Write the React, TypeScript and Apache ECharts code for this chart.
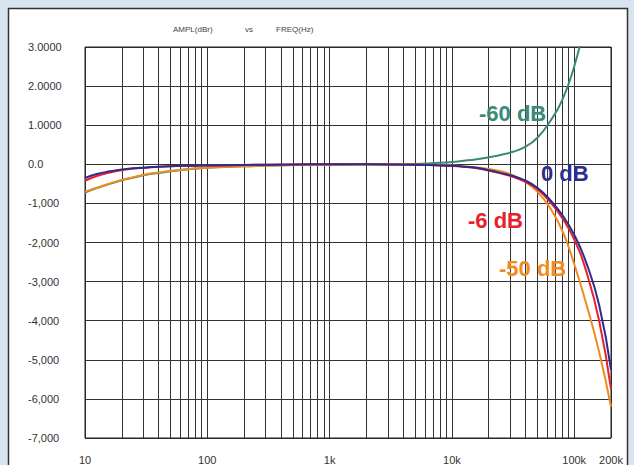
import React, { useEffect, useRef } from "react";
import * as echarts from "echarts";

// Frequencies (Hz) of the sampled points
const FREQS = [10, 12.5, 16, 20, 25, 31.5, 40, 50, 63, 80, 100, 200, 500, 1000, 2000, 5000, 10000, 12500, 16000, 20000, 25000, 31500, 40000, 50000, 63000, 80000, 100000, 125000, 160000, 200000];

// Amplitude (dBr) per input level
const AMP_0DB = [-0.35, -0.25, -0.18, -0.13, -0.1, -0.08, -0.06, -0.05, -0.04, -0.035, -0.03, -0.015, -0.005, 0, 0, -0.01, -0.04, -0.06, -0.09, -0.15, -0.22, -0.3, -0.42, -0.6, -0.9, -1.3, -1.8, -2.5, -3.6, -5.26];
const AMP_M6DB = [-0.42, -0.3, -0.21, -0.15, -0.11, -0.09, -0.065, -0.05, -0.04, -0.035, -0.03, -0.015, -0.005, 0, 0, -0.01, -0.04, -0.06, -0.1, -0.16, -0.23, -0.32, -0.45, -0.64, -0.95, -1.38, -1.92, -2.72, -4.0, -5.75];
const AMP_M50DB = [-0.7, -0.6, -0.49, -0.4, -0.33, -0.26, -0.21, -0.17, -0.14, -0.11, -0.09, -0.05, -0.02, -0.01, 0, -0.01, -0.03, -0.05, -0.08, -0.12, -0.18, -0.28, -0.45, -0.7, -1.1, -1.7, -2.55, -3.55, -4.8, -6.2];
const AMP_M60DB = [-0.72, -0.61, -0.5, -0.41, -0.34, -0.27, -0.22, -0.18, -0.14, -0.11, -0.09, -0.05, -0.02, -0.01, 0, 0.01, 0.06, 0.09, 0.13, 0.18, 0.24, 0.32, 0.45, 0.68, 1.08, 1.65, 2.5, 3.7, 5.4, 7.6];

const SERIES_NAMES = ["-60 dB", "-50 dB", "-6 dB", "0 dB"];

// Axis ticks
const X_TICK_FREQS = [10, 100, 1000, 10000, 100000, 200000];
const X_TICK_LABELS = ["10", "100", "1k", "10k", "100k", "200k"];
const X_DECADES = [10, 100, 1000, 10000, 100000];
const X_MULTIPLIERS = [1, 2, 3, 4, 5, 6, 7, 8, 9];
const Y_TICKS = [-7, -6, -5, -4, -3, -2, -1, 0, 1, 2, 3];
const Y_TICK_LABELS = ["-7,000", "-6,000", "-5,000", "-4,000", "-3,000", "-2,000", "-1,000", "0.0", "1.0000", "2.0000", "3.0000"];

const TITLE_PARTS = ["AMPL(dBr)", "vs", "FREQ(Hz)"];

export default function App() {
  const ref = useRef<HTMLDivElement>(null);

  useEffect(() => {
    if (!ref.current) return;
    const chart = echarts.init(ref.current, undefined, { renderer: "svg" });
    const lg = (f: number) => Math.log10(f);
    const xMin = lg(10);
    const xMax = lg(200000);
    const gridPos: number[] = [];
    X_DECADES.forEach((d) =>
      X_MULTIPLIERS.forEach((m) => {
        const f = d * m;
        if (f <= 200000) gridPos.push(lg(f));
      })
    );
    gridPos.push(xMax);
    const labelPos = X_TICK_FREQS.map(lg);

    const mk = (vals: number[]) => FREQS.map((f, i) => [lg(f), vals[i]]);
    const colors = ["#3b8a78", "#f28b1f", "#e8202e", "#2e2c8c"];
    const datas = [AMP_M60DB, AMP_M50DB, AMP_M6DB, AMP_0DB];

    const font = "Liberation Sans, Arial, sans-serif";

    chart.setOption({
      animation: false,
      backgroundColor: "transparent",
      grid: {
        left: 85,
        top: 47,
        right: 23,
        bottom: 27,
        show: true,
        borderColor: "#222",
        borderWidth: 1,
        backgroundColor: "transparent",
        z: 2,
      },
      xAxis: {
        type: "value",
        min: xMin,
        max: xMax,
        axisLine: { show: false },
        axisTick: { show: false, customValues: gridPos },
        splitLine: { show: true, lineStyle: { color: "#333", width: 1 } },
        axisLabel: {
          customValues: labelPos,
          margin: 16,
          fontSize: 11,
          color: "#333",
          fontFamily: font,
          formatter: (v: number) => {
            const i = labelPos.findIndex((p) => Math.abs(p - v) < 1e-6);
            return i >= 0 ? X_TICK_LABELS[i] : "";
          },
        },
      },
      yAxis: {
        type: "value",
        min: -7,
        max: 3,
        interval: 1,
        axisLine: { show: false },
        axisTick: { show: false },
        splitLine: { show: true, lineStyle: { color: "#333", width: 1 } },
        axisLabel: {
          align: "left",
          margin: 57,
          fontSize: 11,
          color: "#333",
          fontFamily: font,
          formatter: (v: number) => {
            const i = Y_TICKS.indexOf(Math.round(v));
            return i >= 0 ? Y_TICK_LABELS[i] : "";
          },
        },
      },
      series: SERIES_NAMES.map((name, k) => ({
        name,
        type: "line",
        data: mk(datas[k]),
        smooth: 0.5,
        showSymbol: false,
        clip: true,
        z: 3 + k,
        lineStyle: { color: colors[k], width: 2 },
        itemStyle: { color: colors[k] },
      })),
      graphic: [
        {
          type: "rect",
          z: -10,
          silent: true,
          shape: { x: 8.5, y: 8.5, width: 619, height: 480 },
          style: { fill: "#ffffff", stroke: "#333", lineWidth: 1.5 },
        },
        ...TITLE_PARTS.map((t, i) => ({
          type: "text",
          z: 10,
          x: [173, 245, 276][i],
          y: 29,
          style: {
            text: t,
            fontSize: 8,
            fontFamily: font,
            fill: "#444",
            textAlign: "left",
            textVerticalAlign: "middle",
          },
        })),
        ...[
          { t: SERIES_NAMES[0], x: 479, y: 113, c: colors[0] },
          { t: SERIES_NAMES[3], x: 541, y: 173, c: colors[3] },
          { t: SERIES_NAMES[2], x: 468, y: 220, c: colors[2] },
          { t: SERIES_NAMES[1], x: 499, y: 268, c: colors[1] },
        ].map((l) => ({
          type: "text",
          z: 10,
          x: l.x,
          y: l.y,
          style: {
            text: l.t,
            fontSize: 22,
            fontWeight: "bold",
            fontFamily: font,
            fill: l.c,
            textAlign: "left",
            textVerticalAlign: "middle",
          },
        })),
      ],
    });
    return () => chart.dispose();
  }, []);

  return (
    <div
      style={{
        position: "fixed",
        left: 0,
        top: 0,
        width: 634,
        height: 465,
        background: "#d9e4f1",
      }}
    >
      <div ref={ref} style={{ width: 634, height: 465 }} />
    </div>
  );
}
